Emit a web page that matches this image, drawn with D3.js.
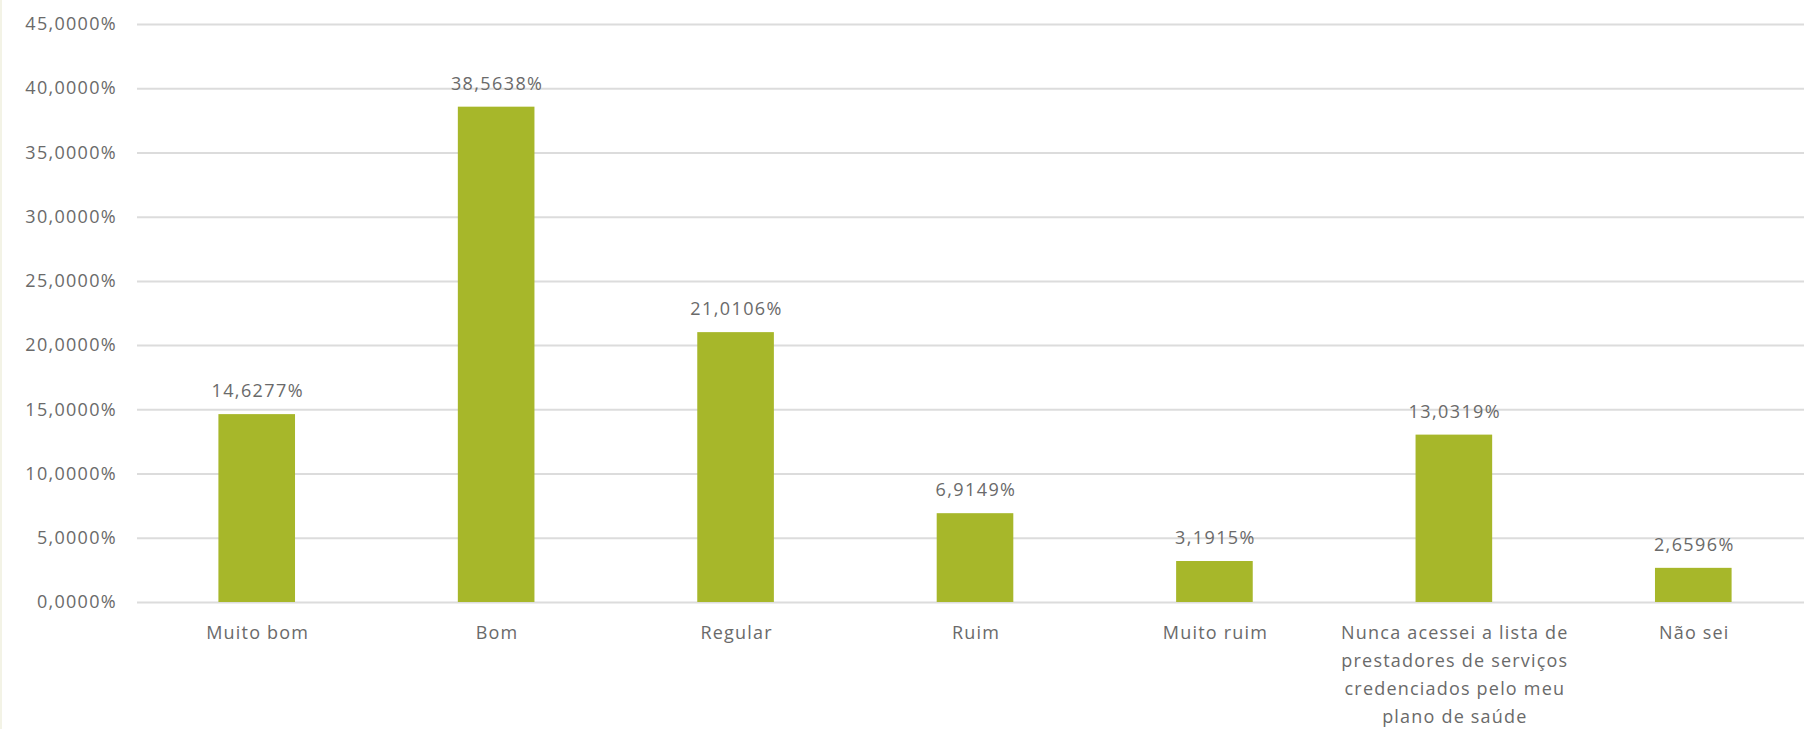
<!doctype html>
<html>
  <head>
    <meta charset="utf-8">
    <title>Avaliação da lista de prestadores</title>
    <script src="https://d3js.org/d3.v7.min.js"></script>
    <style type="text/css">
      body {
        margin: 0;
        background-color: #ffffff;
      }
      svg text {
        font-family: "Open Sans", Lato, sans-serif;
        fill: #6a6a6a;
      }
    </style>
  </head>
  <body>
    <script>
      // data
      var categories = ["Muito bom", "Bom", "Regular", "Ruim", "Muito ruim",
        "Nunca acessei a lista de prestadores de serviços credenciados pelo meu plano de saúde",
        "Não sei"];
      var values = [14.6277, 38.5638, 21.0106, 6.9149, 3.1915, 13.0319, 2.6596];
      var yTicks = [0, 5, 10, 15, 20, 25, 30, 35, 40, 45];

      var w = 1804, h = 729;

      var svg = d3.select("body").append("svg")
        .attr("width", w)
        .attr("height", h);

      // faint page border on the left
      svg.append("rect")
        .attr("x", 0).attr("y", 0).attr("width", 2).attr("height", h)
        .style("fill", "#f3f3e6");

      var x = d3.scaleBand()
        .domain(categories)
        .range([137, 1813])
        .paddingInner(0.68)
        .paddingOuter(0.34);

      var y = d3.scaleLinear()
        .domain([0, 45])
        .range([602, 24]);

      function fmt(v) {
        return v.toFixed(4).replace(".", ",") + "%";
      }

      // gridlines + y labels
      var yAxis = d3.axisLeft(y)
        .tickValues(yTicks)
        .tickSize(-(w - 137))
        .tickPadding(20)
        .tickFormat(fmt);

      var gy = svg.append("g")
        .attr("transform", "translate(137,0)")
        .call(yAxis);
      gy.select(".domain").remove();
      gy.selectAll(".tick line")
        .style("stroke", "#dcdcdc")
        .style("stroke-width", 2);
      gy.selectAll(".tick text")
        .style("font-size", "18px")
        .style("letter-spacing", "1.3px")
        .style("fill", "#6a6a6a");

      // bars
      svg.append("g").selectAll("rect")
        .data(values)
        .enter()
        .append("rect")
        .attr("x", function(d, i) { return x(categories[i]); })
        .attr("y", function(d) { return y(d); })
        .attr("width", x.bandwidth())
        .attr("height", function(d) { return y(0) - y(d); })
        .style("fill", "#a7b72a");

      // value labels
      svg.append("g").selectAll("text")
        .data(values)
        .enter()
        .append("text")
        .attr("x", function(d, i) { return x(categories[i]) + x.bandwidth() / 2 + 1; })
        .attr("y", function(d) { return y(d) - 17; })
        .attr("text-anchor", "middle")
        .style("font-size", "18px")
        .style("letter-spacing", "1.4px")
        .text(function(d) { return fmt(d); });

      // category labels, wrapped
      function wrap(sel, width) {
        sel.each(function(d) {
          var t = d3.select(this);
          var words = d.split(" ");
          var line = [];
          var tspan = t.text(null).append("tspan").attr("x", t.attr("x")).attr("dy", 0);
          words.forEach(function(word) {
            line.push(word);
            tspan.text(line.join(" "));
            if (tspan.node().getComputedTextLength() > width && line.length > 1) {
              line.pop();
              tspan.text(line.join(" "));
              line = [word];
              tspan = t.append("tspan").attr("x", t.attr("x")).attr("dy", 28).text(word);
            }
          });
        });
      }

      svg.append("g").selectAll("text")
        .data(categories)
        .enter()
        .append("text")
        .attr("x", function(d) { return x(d) + x.bandwidth() / 2 + 1; })
        .attr("y", 639)
        .attr("text-anchor", "middle")
        .style("font-size", "18px")
        .style("letter-spacing", "1.2px")
        .text(function(d) { return d; })
        .call(wrap, 258);
    </script>
  </body>
</html>
